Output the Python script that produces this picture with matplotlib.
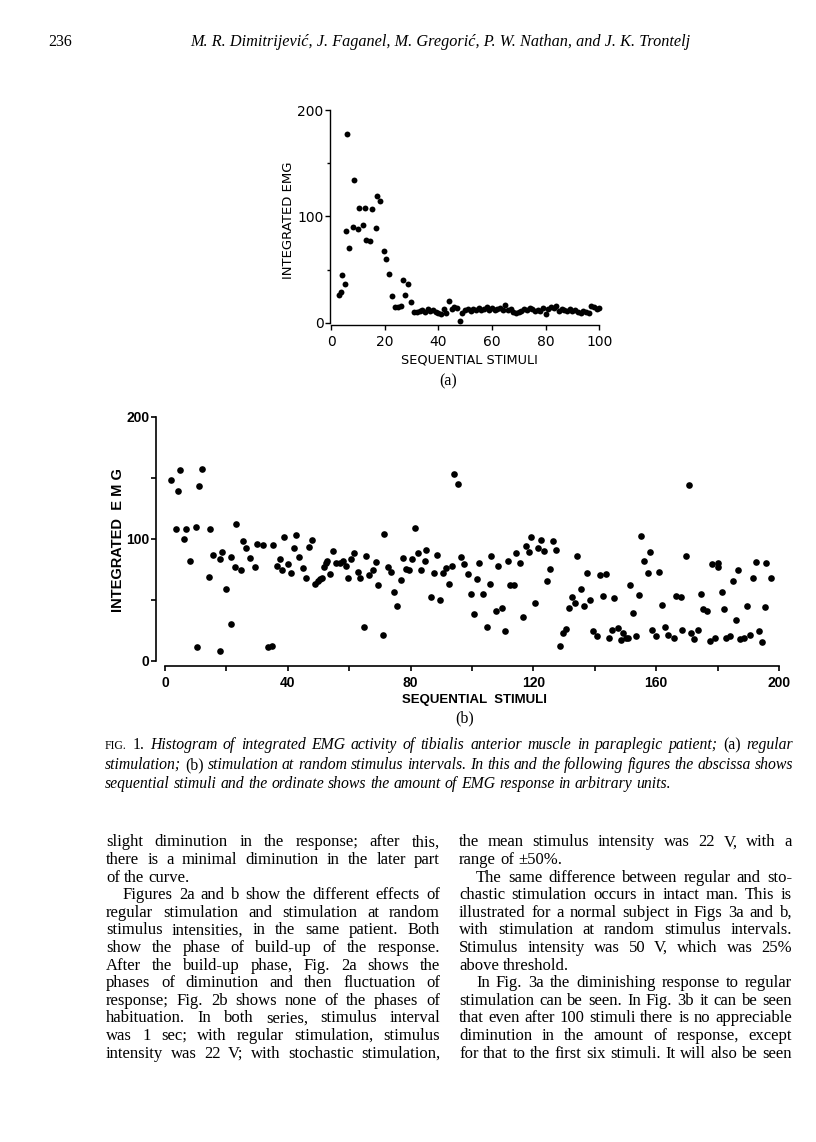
import matplotlib
matplotlib.use("Agg")
import matplotlib.pyplot as plt
from matplotlib.transforms import IdentityTransform

W, H = 816, 1142

# (a) regular stimulation
a_x = [3.1, 3.7, 4.0, 5.2, 5.6, 6.0, 6.6, 8.2, 8.4, 10.0, 10.6, 11.8, 12.5, 13.2, 14.5,
       15.4, 16.8, 17.1, 18.3, 19.6, 20.5, 21.5, 22.9, 23.9, 25.0, 26.0, 26.7, 27.6, 28.7, 29.8,
       31, 32, 33, 34, 35, 36, 37, 38, 39, 40, 41, 42, 43, 44, 45, 46, 47, 48, 49, 50,
       51, 52, 53, 54, 55, 56, 57, 58, 59, 60, 61, 62, 63, 64, 65, 66, 67, 68, 69, 70,
       71, 72, 73, 74, 75, 76, 77, 78, 79, 80, 81, 82, 83, 84, 85, 86, 87, 88, 89, 90,
       91, 92, 93, 94, 95, 96, 97, 98, 99, 100]
a_y = [26, 29, 45, 36, 86, 177, 70, 90, 134, 88, 108, 92, 108, 78, 77,
       107, 89, 119, 114, 67, 60, 46, 25, 15, 15, 16, 40, 26, 36, 19,
       10, 10, 11, 12, 10, 13, 11, 12, 10, 9, 8, 13, 9, 20, 13, 15, 14, 2, 9, 12,
       13, 11, 13, 12, 14, 12, 13, 15, 12, 14, 12, 13, 14, 12, 17, 12, 13, 10, 9, 10,
       11, 13, 12, 14, 13, 11, 12, 11, 14, 8, 13, 15, 14, 16, 11, 13, 12, 11, 13, 11,
       12, 10, 9, 11, 10, 9, 16, 15, 13, 14]

# (b) stimulation at random stimulus intervals
b_x = [1.9, 3.5, 4.1, 4.8, 6.1, 6.9, 8.2, 10.0, 10.3, 11.2, 12.2, 14.2, 14.6, 15.6, 17.8,
       17.8, 18.6, 19.9, 21.4, 21.6, 22.8, 23.2, 24.9, 25.5, 26.5, 27.6, 29.4, 30.1, 32.0, 33.4,
       34.8, 35.2, 36.4, 37.4, 38.0, 38.8, 40.2, 40.9, 41.9, 42.8, 43.8, 45.0, 45.9, 47.0, 48.0,
       49.0, 49.9, 50.6, 51.2, 51.9, 52.3, 52.9, 53.7, 54.7, 55.8, 56.9, 57.9, 58.8, 59.7, 60.5,
       61.5, 62.8, 63.5, 64.7, 65.5, 66.4, 67.8, 68.6, 69.5, 70.9, 71.3, 72.5, 73.7, 74.6, 75.7,
       76.8, 77.6, 78.6, 79.6, 80.5, 81.3, 82.3, 83.3, 84.6, 85.1, 86.5, 87.5, 88.5, 89.5, 90.5,
       91.4, 92.5, 93.5, 94.1, 95.3, 96.4, 97.5, 98.6, 99.6, 100.7, 101.5, 102.3, 103.6, 104.8, 105.8,
       106.3, 107.7, 108.5, 109.8, 110.9, 111.6, 112.4, 113.7, 114.4, 115.5, 116.7, 117.5, 118.5, 119.3, 120.5,
       121.4, 122.5, 123.4, 124.5, 125.5, 126.4, 127.4, 128.8, 129.5, 130.6, 131.6, 132.7, 133.4, 134.2, 135.6,
       136.5, 137.4, 138.5, 139.5, 140.7, 141.6, 142.6, 143.5, 144.7, 145.5, 146.4, 147.7, 148.4, 149.2, 150.2,
       150.8, 151.5, 152.3, 153.4, 154.3, 155.0, 156.1, 157.3, 158.1, 158.7, 160.0, 160.9, 161.8, 162.8, 163.7,
       165.7, 166.4, 168.0, 168.5, 169.6, 170.6, 171.3, 172.4, 173.5, 174.5, 175.1, 176.4, 177.5, 178.3, 179.2,
       180.0, 180.1, 181.3, 182.1, 182.7, 184.0, 185.0, 185.9, 186.6, 187.4, 188.5, 189.7, 190.7, 191.6, 192.5,
       193.4, 194.4, 195.4, 195.7, 197.3]
b_y = [148, 108, 139, 156, 100, 108, 82, 110, 11, 143, 157, 69, 108, 87, 83,
       8, 89, 59, 30, 85, 77, 112, 74, 98, 92, 84, 77, 96, 95, 11,
       12, 95, 78, 83, 74, 101, 79, 72, 92, 103, 85, 76, 68, 93, 99,
       63, 65, 67, 68, 77, 80, 82, 71, 90, 80, 80, 82, 78, 68, 83,
       88, 73, 68, 28, 86, 70, 74, 81, 62, 21, 104, 77, 73, 56, 45,
       66, 84, 75, 74, 83, 109, 88, 74, 82, 91, 52, 72, 87, 50, 72,
       76, 63, 78, 153, 145, 85, 79, 71, 55, 38, 67, 80, 55, 28, 63,
       86, 41, 78, 43, 24, 82, 62, 62, 88, 80, 36, 94, 89, 101, 47,
       92, 99, 90, 65, 75, 98, 91, 12, 23, 26, 43, 52, 47, 86, 59,
       45, 72, 50, 24, 20, 70, 53, 71, 19, 25, 51, 27, 17, 23, 19,
       19, 62, 39, 20, 54, 102, 82, 72, 89, 25, 20, 73, 46, 28, 21,
       19, 53, 52, 25, 86, 144, 23, 18, 25, 55, 42, 41, 16, 79, 19,
       80, 77, 56, 42, 19, 20, 65, 33, 74, 18, 19, 45, 21, 68, 81,
       24, 15, 44, 80, 68]

header_num = "236"
header_authors = "M. R. Dimitrijević, J. Faganel, M. Gregorić, P. W. Nathan, and J. K. Trontelj"

caption_lines = [
    "FIG. 1. Histogram of integrated EMG activity of tibialis anterior muscle in paraplegic patient; (a) regular",
    "stimulation; (b) stimulation at random stimulus intervals. In this and the following figures the abscissa shows",
    "sequential stimuli and the ordinate shows the amount of EMG response in arbitrary units.",
]
left_col = [
    ("slight diminution in the response; after this,", 0, True),
    ("there is a minimal diminution in the later part", 0, True),
    ("of the curve.", 0, False),
    ("Figures 2a and b show the different effects of", 1, True),
    ("regular stimulation and stimulation at random", 0, True),
    ("stimulus intensities, in the same patient. Both", 0, True),
    ("show the phase of build-up of the response.", 0, True),
    ("After the build-up phase, Fig. 2a shows the", 0, True),
    ("phases of diminution and then fluctuation of", 0, True),
    ("response; Fig. 2b shows none of the phases of", 0, True),
    ("habituation. In both series, stimulus interval", 0, True),
    ("was 1 sec; with regular stimulation, stimulus", 0, True),
    ("intensity was 22 V; with stochastic stimulation,", 0, True),
]
right_col = [
    ("the mean stimulus intensity was 22 V, with a", 0, True),
    ("range of ±50%.", 0, False),
    ("The same difference between regular and sto-", 1, True),
    ("chastic stimulation occurs in intact man. This is", 0, True),
    ("illustrated for a normal subject in Figs 3a and b,", 0, True),
    ("with stimulation at random stimulus intervals.", 0, True),
    ("Stimulus intensity was 50 V, which was 25%", 0, True),
    ("above threshold.", 0, False),
    ("In Fig. 3a the diminishing response to regular", 1, True),
    ("stimulation can be seen. In Fig. 3b it can be seen", 0, True),
    ("that even after 100 stimuli there is no appreciable", 0, True),
    ("diminution in the amount of response, except", 0, True),
    ("for that to the first six stimuli. It will also be seen", 0, True),
]

fig = plt.figure(figsize=(W / 100, H / 100), dpi=100)
fig.patch.set_facecolor("white")
renderer = fig.canvas.get_renderer()
ident = IdentityTransform()


def px_axes(left, right, top, bottom):
    return fig.add_axes([left / W, 1 - bottom / H, (right - left) / W, (bottom - top) / H])


def place_line(words, x0, x1, y, size, justify, style_of=None):
    ts = []
    for w in words:
        kw = dict(family="Liberation Serif", size=size, style="normal")
        if style_of:
            kw.update(style_of(w))
        ts.append(fig.text(0, H - y, w, transform=ident, ha="left", va="baseline", **kw))
    widths = [t.get_window_extent(renderer).width for t in ts]
    gap = 0.25 * size * 100 / 72
    if justify and len(ts) > 1:
        gap = (x1 - x0 - sum(widths)) / (len(ts) - 1)
    x = x0
    for t, w in zip(ts, widths):
        t.set_x(x)
        x += w + gap


# ---- panel (a)
ax1 = px_axes(330, 600, 110, 325)
ax1.scatter(a_x, a_y, s=18, c="black", linewidths=0, clip_on=False)
ax1.set_xlim((330 - 331) / 2.683, (600 - 331) / 2.683)
ax1.set_ylim((322.7 - 325) / 1.0635, 200)
ax1.spines[["top", "right"]].set_visible(False)
ax1.spines["left"].set_bounds(0, 200)
ax1.spines["bottom"].set_bounds(0, 100)
for s in ax1.spines.values():
    s.set_linewidth(1.0)
ax1.set_xticks([0, 20, 40, 60, 80, 100])
ax1.set_yticks([0, 100, 200])
ax1.set_yticks([50, 150], minor=True)
ax1.tick_params(axis="both", which="major", length=3.5, width=1.0, labelsize=10)
ax1.tick_params(axis="y", which="minor", length=2.5, width=1.0)
ax1.tick_params(axis="x", pad=4)
ax1.tick_params(axis="y", pad=1)
for lab in ax1.get_xticklabels() + ax1.get_yticklabels():
    lab.set_family("DejaVu Sans")
fig.text(289 / W, 1 - 220 / H, "INTEGRATED EMG", rotation=90, ha="center", va="center",
         family="DejaVu Sans", size=9.5)
fig.text(469 / W, 1 - 359.7 / H, "SEQUENTIAL STIMULI", ha="center", va="center",
         family="DejaVu Sans", size=9.3)
fig.text(448 / W, 1 - 381 / H, "(a)", ha="center", va="center", family="Liberation Serif", size=11.5)

# ---- panel (b)
ax2 = px_axes(156, 780, 416.7, 665.7)
ax2.scatter(b_x, b_y, s=23, c="black", linewidths=0, clip_on=False)
ax2.set_xlim((156 - 165) / 3.07, (780 - 165) / 3.07)
ax2.set_ylim((660.7 - 665.7) / 1.22, 200)
ax2.spines[["top", "right"]].set_visible(False)
ax2.spines["left"].set_bounds(0, 200)
ax2.spines["bottom"].set_bounds(0, 200)
for s in ax2.spines.values():
    s.set_linewidth(1.2)
ax2.set_xticks([0, 40, 80, 120, 160, 200])
ax2.set_xticks([20, 60, 100, 140, 180], minor=True)
ax2.set_yticks([0, 100, 200])
ax2.set_yticks([50, 150], minor=True)
ax2.tick_params(axis="both", which="both", length=3.5, width=1.2, labelsize=10)
ax2.tick_params(axis="x", pad=4)
ax2.tick_params(axis="y", pad=1)
for lab in ax2.get_xticklabels() + ax2.get_yticklabels():
    lab.set_family("Liberation Sans")
    lab.set_weight("bold")
fig.text(118 / W, 1 - 540 / H, "INTEGRATED  E M G", rotation=90, ha="center", va="center",
         family="Liberation Sans", weight="bold", size=10.5)
fig.text(474 / W, 1 - 700 / H, "SEQUENTIAL  STIMULI", ha="center", va="center",
         family="Liberation Sans", weight="bold", size=9.5)
fig.text(465 / W, 1 - 718 / H, "(b)", ha="center", va="center", family="Liberation Serif", size=11.5)

# ---- header
fig.text(48, H - 46, header_num, transform=ident, family="Liberation Serif", size=11.5, va="baseline")
fig.text(440, H - 46, header_authors, transform=ident, family="Liberation Serif", style="italic",
         size=11.7, ha="center", va="baseline")


# ---- caption
def cap_style(w):
    if w == "FIG.":
        return dict(style="normal", size=8.5)
    if w in ("1.", "(a)", "(b)"):
        return dict(style="normal")
    return dict(style="italic")


cap_base = [749, 769, 788]
for i, line in enumerate(caption_lines):
    place_line(line.split(), 105, 793, cap_base[i], 11.3, i < 2, cap_style)

# ---- body text
for col, (x0, x1) in ((left_col, (106, 440)), (right_col, (459, 792))):
    for i, (line, indent, just) in enumerate(col):
        y = 846.5 + i * 17.6
        place_line(line.split(), x0 + indent * 17, x1, y, 12, just)

fig.savefig("out.png", dpi=100, facecolor="white")
